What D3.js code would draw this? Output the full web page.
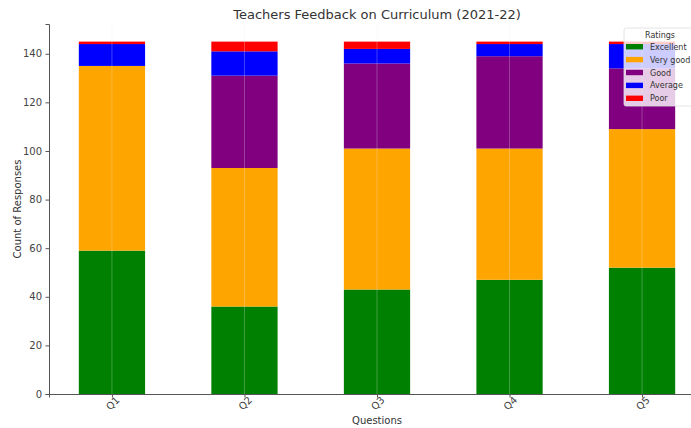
<!DOCTYPE html>
<html>
<head>
<meta charset="utf-8">
<script src="https://cdn.jsdelivr.net/npm/d3@7"></script>
<style>
  html, body { margin: 0; padding: 0; background: #fff; }
  svg { display: block; font-family: "DejaVu Sans", sans-serif; }
</style>
</head>
<body>
<svg id="chart" width="691" height="428"></svg>
<script>
// Questions on the x axis
const questions = ["Q1", "Q2", "Q3", "Q4", "Q5"];
// Rating categories, stacked bottom to top
const ratings = ["Excellent", "Very good", "Good", "Average", "Poor"];
const ratingColors = ["#008000", "#FFA500", "#800080", "#0000FF", "#FF0000"];
// Response counts per rating, one value per question
const excellent = [59, 36, 43, 47, 52];
const veryGood  = [76, 57, 58, 54, 57];
const good      = [0, 38, 35, 38, 25];
const average   = [9, 10, 6, 5, 10];
const poor      = [1, 4, 3, 1, 1];
const yTicks = [0, 20, 40, 60, 80, 100, 120, 140];

const seriesValues = [excellent, veryGood, good, average, poor];
const rows = questions.map((q, i) => {
  const r = { q, idx: i };
  ratings.forEach((k, j) => r[k] = seriesValues[j][i]);
  return r;
});
const stacked = d3.stack().keys(ratings)(rows);

const svg = d3.select("#chart");
const plotLeft = 49, plotRight = 705, plotTop = 24, plotBottom = 394;

const x = d3.scaleLinear().domain([-0.475, 4.475]).range([plotLeft, plotRight]);
const y = d3.scaleLinear().domain([0, 152.25]).range([plotBottom, plotTop]);
const color = d3.scaleOrdinal().domain(ratings).range(ratingColors);
const barW = 0.5;

// Stacked bars
svg.append("g").selectAll("g").data(stacked).join("g")
  .attr("fill", d => color(d.key))
  .selectAll("rect").data(d => d).join("rect")
  .attr("x", d => x(d.data.idx - barW / 2))
  .attr("width", d => x(barW) - x(0))
  .attr("y", d => y(d[1]))
  .attr("height", d => y(d[0]) - y(d[1]));

// Vertical grid lines at each question
svg.append("g").selectAll("line").data(questions).join("line")
  .attr("x1", (d, i) => x(i)).attr("x2", (d, i) => x(i))
  .attr("y1", plotTop).attr("y2", plotBottom)
  .attr("stroke", "#ececec").attr("stroke-opacity", 0.35).attr("stroke-width", 0.8);

// Y axis
const yAxis = svg.append("g").attr("transform", `translate(${plotLeft},0)`)
  .call(d3.axisLeft(y).tickValues(yTicks).tickSize(3.5).tickPadding(3.5));
yAxis.select(".domain").attr("stroke", "#555").attr("stroke-width", 1);
yAxis.selectAll(".tick line").attr("stroke", "#555");
yAxis.selectAll(".tick text").attr("fill", "#444").attr("font-size", 10)
  .attr("font-family", "DejaVu Sans, sans-serif");

// X axis
const xAxis = svg.append("g").attr("transform", `translate(0,${plotBottom})`)
  .call(d3.axisBottom(x).tickValues(d3.range(questions.length))
    .tickFormat(i => questions[i]).tickSize(3.5).tickPadding(3.5));
xAxis.select(".domain").attr("stroke", "#555").attr("stroke-width", 1);
xAxis.selectAll(".tick line").attr("stroke", "#555");
xAxis.selectAll(".tick text").attr("fill", "#444").attr("font-size", 10)
  .attr("font-family", "DejaVu Sans, sans-serif")
  .attr("text-anchor", "middle")
  .attr("dy", null)
  .attr("y", 13)
  .attr("transform", "rotate(-45, 0, 9)");

// Title and axis labels
svg.append("text").attr("x", (plotLeft + plotRight) / 2).attr("y", 19)
  .attr("text-anchor", "middle").attr("font-size", 13).attr("fill", "#333")
  .text("Teachers Feedback on Curriculum (2021-22)");
svg.append("text").attr("x", (plotLeft + plotRight) / 2).attr("y", 424)
  .attr("text-anchor", "middle").attr("font-size", 10).attr("fill", "#333")
  .text("Questions");
svg.append("text").attr("transform", `translate(21,${(plotTop + plotBottom) / 2}) rotate(-90)`)
  .attr("text-anchor", "middle").attr("font-size", 10).attr("fill", "#333")
  .text("Count of Responses");

// Legend
const lg = svg.append("g").attr("transform", "translate(624,28)");
lg.append("rect").attr("width", 80).attr("height", 78).attr("rx", 2)
  .attr("fill", "#fff").attr("fill-opacity", 0.8)
  .attr("stroke", "#ddd").attr("stroke-width", 0.8);
lg.append("text").attr("x", 36).attr("y", 10).attr("text-anchor", "middle")
  .attr("font-size", 8).attr("fill", "#333").text("Ratings");
ratings.forEach((r, i) => {
  const gy = 18.7 + i * 12.9;
  lg.append("rect").attr("x", 2).attr("y", gy - 2.7).attr("width", 17).attr("height", 5.4)
    .attr("fill", color(r));
  lg.append("text").attr("x", 26).attr("y", gy + 3).attr("font-size", 8)
    .attr("fill", "#333").text(r);
});
</script>
</body>
</html>
